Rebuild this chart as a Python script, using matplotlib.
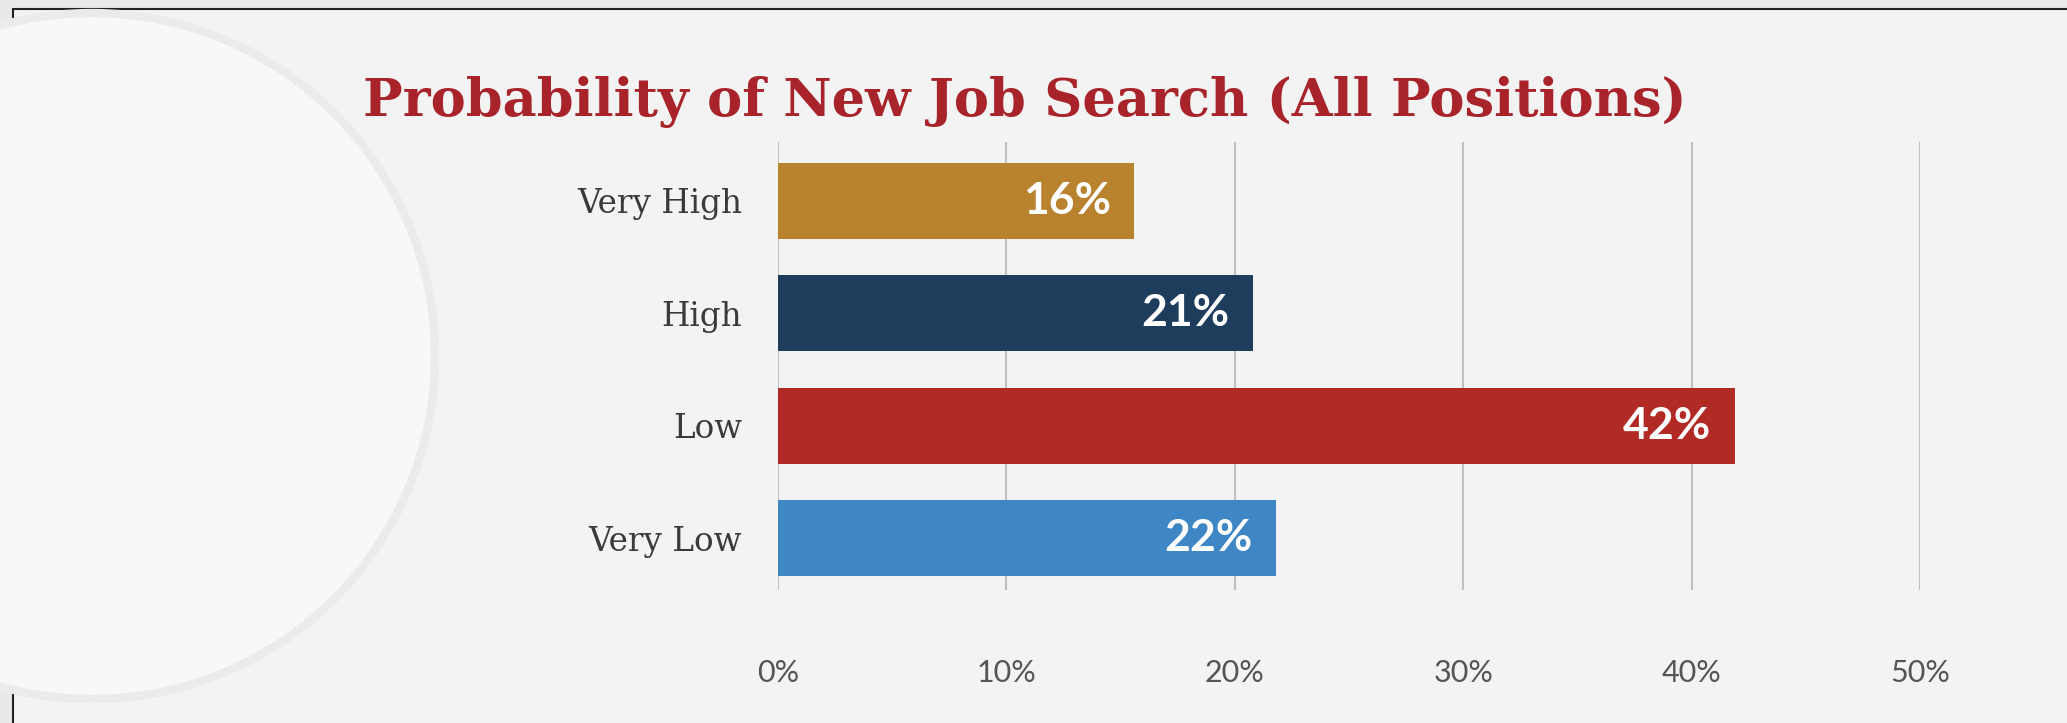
import matplotlib.pyplot as plt
from matplotlib.patches import Ellipse, Rectangle

# data
categories = ["Very High", "High", "Low", "Very Low"]
values = [15.6, 20.8, 41.9, 21.8]
bar_labels = ["16%", "21%", "42%", "22%"]
bar_colors = ["#b8822e", "#1e3d5c", "#b22a25", "#3f86c4"]
xticks = [0, 10, 20, 30, 40, 50]
xtick_labels = ["0%", "10%", "20%", "30%", "40%", "50%"]

W, H = 2067, 723
fig = plt.figure(figsize=(W / 100, H / 100), dpi=100)
fig.patch.set_facecolor("#e9e9e9")

# panel with thin dark border (top and left visible)
fig.patches.append(Rectangle((13 / W, -0.1), 1.2, 1.1 - 9 / H, transform=fig.transFigure,
                             facecolor="#f3f3f3", edgecolor="#222222", lw=1.5, zorder=-2))
# faint plate circle on the left
fig.patches.append(Ellipse((92 / W, 1 - 356 / H), 2 * 343 / W, 2 * 343 / H,
                           transform=fig.transFigure, facecolor="#f8f8f8",
                           edgecolor="#ebebeb", lw=6, zorder=-1))

ax = fig.add_axes([778 / W, 1 - 590 / H, (1920 - 778) / W, (590 - 142) / H])
ax.set_facecolor("none")
ax.set_zorder(2)

pos = list(range(len(categories)))
ax.barh(pos, values, height=0.676, color=bar_colors, zorder=3)

for p, v, lab in zip(pos, values, bar_labels):
    ax.annotate(lab, (v, p), xytext=(-17, 0), textcoords="offset points",
                ha="right", va="center", color="white", fontsize=32,
                fontfamily="Lato", fontweight="bold", zorder=4)

ax.set_xlim(0, 50)
ax.set_ylim(3.462, -0.524)
ax.set_xticks(xticks)
ax.set_xticklabels(xtick_labels, fontfamily="Lato", fontsize=22, color="#555555")
ax.set_yticks(pos)
ax.set_yticklabels(categories, fontfamily="DejaVu Serif", fontsize=23.5, color="#3a3a3a")
ax.tick_params(axis="both", length=0)
ax.tick_params(axis="x", pad=50)
ax.tick_params(axis="y", pad=26)
ax.grid(axis="x", color="#c0c0c0", lw=1.5, zorder=1)
for s in ax.spines.values():
    s.set_visible(False)

fig.text(1025 / W, 1 - 116 / H, "Probability of New Job Search (All Positions)",
         ha="center", va="baseline", fontsize=38, fontfamily="DejaVu Serif",
         fontweight="bold", color="#a8232a", zorder=3)

fig.savefig("out.png", dpi=100, facecolor=fig.get_facecolor())
